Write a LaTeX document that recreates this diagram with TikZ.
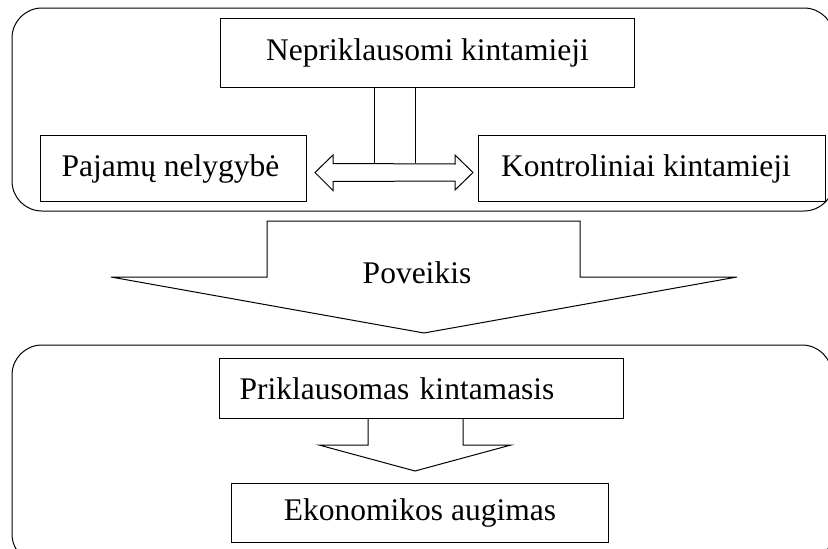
\documentclass[tikz,border=0pt]{standalone}
\usepackage{fontspec}
\setmainfont{Liberation Serif}
\usetikzlibrary{calc}
\begin{document}
\begin{tikzpicture}[x=1pt,y=-1pt,
  line width=1pt,
  every node/.style={font=\fontsize{31.5}{36}\selectfont},
  stepbox/.style={draw,rectangle,inner sep=0pt,anchor=north west},
  frame/.style={draw,rounded corners=30pt},
  blockarrow/.style={draw,line join=miter}]
\useasboundingbox (0,0) rectangle (828,549);
\clip (0,0) rectangle (828,549);

% group frames
\draw[frame] (12,8) rectangle (834,211);
\draw[frame] (12,345) rectangle (832,564);

% boxes
\node[stepbox,minimum width=414pt,minimum height=69pt] (indep) at (220,18) {Nepriklausomi kintamieji};
\node[stepbox,minimum width=266pt,minimum height=66pt] (ineq) at (40,135) {\hspace*{-6pt}Pajamų nelygybė};
\node[stepbox,minimum width=347pt,minimum height=66pt] (ctrl) at (478,135) {\hspace*{-12pt}Kontroliniai kintamieji};
\node[stepbox,minimum width=404pt,minimum height=60pt,text width=364pt,align=left,inner xsep=20pt] (dep) at (219,358) {Priklausomas kintamasis};
\node[stepbox,minimum width=377pt,minimum height=59pt] (growth) at (231,483) {Ekonomikos augimas};

% double-headed block arrow between the two side boxes
\coordinate (lt) at ($(ineq.east)+(8,4)$);
\coordinate (rt) at ($(ctrl.west)+(-5,4)$);
\draw[blockarrow] (lt) -- ++(18,-17.5) -- ++(0,8.5) -- ($(rt)+(-18,-8.5)$)
  -- ++(0,-9) -- (rt) -- ++(-18,17.5) -- ++(0,-9) -- ($(lt)+(18,9)$) -- ++(0,9) -- cycle;

% stem from the independent variables box down to the arrow
\draw (indep.south -| 374,0) -- (374,163) (415,163) -- (indep.south -| 415,0);

% large "Poveikis" arrow between the frames
\coordinate (tip) at (424,333);
\draw[blockarrow] (267,277) -- (267,221) -- (580,221) -- (580,277) -- (737,277)
  -- (tip) -- (111,277) -- cycle;
\node[anchor=base] (eff) at (417,283) {Poveikis};

% small arrow from dependent variable to growth
\coordinate (tip2) at (415,471);
\draw[blockarrow] (368,418) -- (368,445) -- (319,445) -- (tip2) -- (511,445)
  -- (463,445) -- (463,418);
\end{tikzpicture}
\end{document}
